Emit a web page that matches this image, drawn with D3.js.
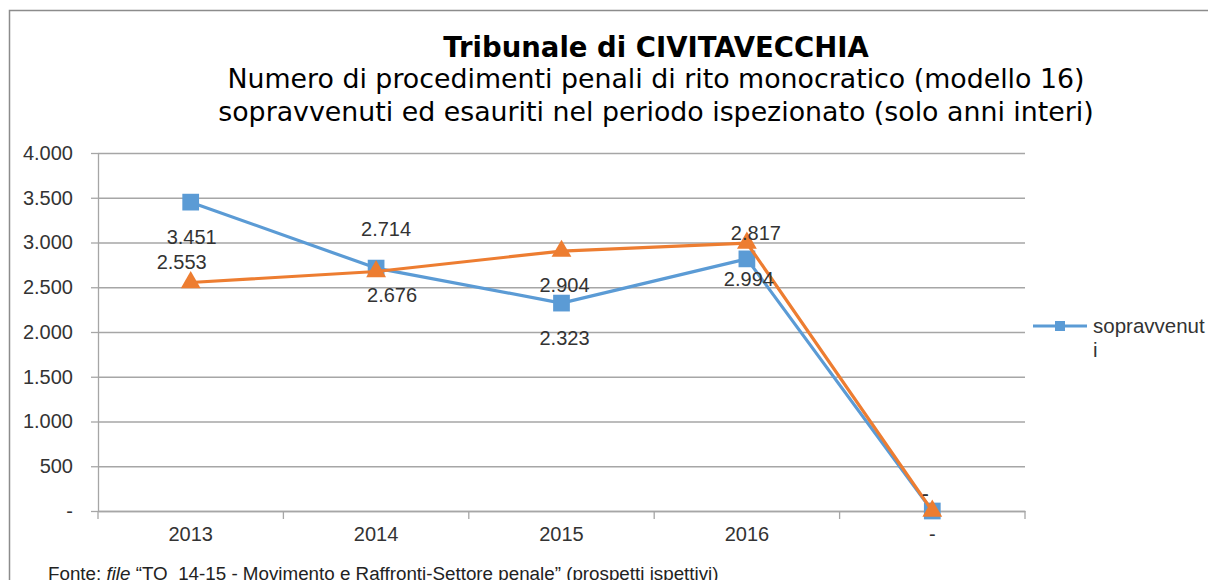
<!DOCTYPE html>
<html>
<head>
<meta charset="utf-8">
<script src="https://cdn.jsdelivr.net/npm/d3@7"></script>
<style>
    body { margin: 0; background: #fff; }
    svg { display: block; }
    .axis text { font-family: "Liberation Sans", Arial, sans-serif; font-size: 20px; fill: #333; }
    .title { font-family: "DejaVu Sans", Verdana, sans-serif; fill: #000; }
</style>
</head>
<body>
<div id="chart"></div>
<script>

// data
const categories = ["2013", "2014", "2015", "2016", "-"];
const seriesNames = ["sopravvenuti", "esauriti"];
const sopravvenuti = [3451, 2714, 2323, 2817, 0];
const esauriti = [2553, 2676, 2904, 2994, 0];
const yTicks = [0, 500, 1000, 1500, 2000, 2500, 3000, 3500, 4000];

const titleLines = [
    "Tribunale di CIVITAVECCHIA",
    "Numero di procedimenti penali di rito monocratico (modello 16)",
    "sopravvenuti ed esauriti nel periodo ispezionato (solo anni interi)"
];

// label offsets (layout only)
const labelOffsets = [
    [[1, 35], [10, -39], [3, 35], [9, -26], [-7, -17]],
    [[-9, -21], [16, 24], [3, 34], [2, 36], [-7, -17]]
];

let width = 1208, height = 580;
let plot = { left: 98, right: 1025, top: 153, bottom: 511 };

let svg = d3.select("#chart").append("svg")
    .attr("width", width)
    .attr("height", height);

// chart frame
svg.append("rect")
    .attr("x", 9.5).attr("y", 10.5)
    .attr("width", 1400).attr("height", 800)
    .attr("fill", "none")
    .attr("stroke", "#8c8c8c")
    .attr("stroke-width", 1.5);

// title
let title = svg.append("text")
    .attr("class", "title")
    .attr("text-anchor", "middle");
title.append("tspan")
    .attr("x", 656).attr("y", 57)
    .attr("font-size", 27.5).attr("font-weight", "bold")
    .text(titleLines[0]);
title.append("tspan")
    .attr("x", 656).attr("y", 88)
    .attr("font-size", 26.8)
    .text(titleLines[1]);
title.append("tspan")
    .attr("x", 656).attr("y", 121)
    .attr("font-size", 26.8)
    .text(titleLines[2]);

// scales
let x = d3.scaleBand()
    .domain(categories)
    .range([plot.left, plot.right])
    .padding(0);

let y = d3.scaleLinear()
    .domain([0, 4000])
    .range([plot.bottom, plot.top]);

const itLocale = d3.formatLocale({ decimal: ",", thousands: ".", grouping: [3], currency: ["€", ""] });
const fmtNum = itLocale.format(",.0f");
const fmt = v => v === 0 ? "-" : fmtNum(v);

// gridlines
svg.append("g")
    .attr("transform", "translate(" + plot.left + ",0)")
    .call(d3.axisLeft(y).tickValues(yTicks).tickSize(-(plot.right - plot.left)).tickFormat(""))
    .call(g => g.select(".domain").remove())
    .call(g => g.selectAll("line").attr("stroke", "#a6a6a6").attr("stroke-width", 1.3));

// y axis
svg.append("g")
    .attr("class", "axis y-axis")
    .attr("transform", "translate(" + plot.left + ",0)")
    .call(d3.axisLeft(y).tickValues(yTicks).tickSize(7).tickSizeOuter(0).tickPadding(18).tickFormat(fmt))
    .call(g => g.select(".domain").attr("stroke", "#a6a6a6").attr("stroke-width", 1.3))
    .call(g => g.selectAll(".tick line").attr("stroke", "#a6a6a6").attr("stroke-width", 1.3));

// x axis (labels)
svg.append("g")
    .attr("class", "axis x-axis")
    .attr("transform", "translate(0," + plot.bottom + ")")
    .call(d3.axisBottom(x).tickSize(0).tickPadding(16))
    .call(g => g.select(".domain").attr("stroke", "#a6a6a6").attr("stroke-width", 1.3));

// x axis boundary ticks
let bounds = categories.map(c => x(c)).concat([x.range()[1]]);
svg.append("g")
    .selectAll("line")
    .data(bounds)
    .join("line")
    .attr("x1", d => d).attr("x2", d => d)
    .attr("y1", plot.bottom).attr("y2", plot.bottom + 8)
    .attr("stroke", "#a6a6a6")
    .attr("stroke-width", 1.3);

// series
let cx = c => x(c) + x.bandwidth() / 2;
let series = [
    { name: seriesNames[0], values: sopravvenuti, color: "#5b9bd5", symbol: d3.symbolSquare, size: 280 },
    { name: seriesNames[1], values: esauriti, color: "#ed7d31", symbol: d3.symbolTriangle, size: 170 }
];

let line = d3.line()
    .x(d => cx(d.cat))
    .y(d => y(d.val));

series.forEach(function (s, si) {
    let pts = categories.map((c, i) => ({ cat: c, val: s.values[i], i: i }));

    svg.append("path")
        .datum(pts)
        .attr("fill", "none")
        .attr("stroke", s.color)
        .attr("stroke-width", 3.2)
        .attr("stroke-linejoin", "round")
        .attr("d", line);

    svg.append("g")
        .selectAll("path")
        .data(pts)
        .join("path")
        .attr("transform", d => "translate(" + cx(d.cat) + "," + y(d.val) + ")")
        .attr("d", d3.symbol().type(s.symbol).size(s.size))
        .attr("fill", s.color);
});

// data labels
series.forEach(function (s, si) {
    svg.append("g")
        .selectAll("text")
        .data(categories.map((c, i) => ({ cat: c, val: s.values[i], i: i })))
        .join("text")
        .attr("x", d => cx(d.cat) + labelOffsets[si][d.i][0])
        .attr("y", d => y(d.val) + labelOffsets[si][d.i][1])
        .attr("dy", "0.35em")
        .attr("text-anchor", "middle")
        .attr("font-family", "Liberation Sans, Arial, sans-serif")
        .attr("font-size", 20)
        .attr("fill", "#333")
        .text(d => fmt(d.val));
});

// legend (second entry falls outside the frame)
let legend = svg.append("g").attr("transform", "translate(1033,326)");
legend.append("line")
    .attr("x1", 0).attr("x2", 54)
    .attr("stroke", series[0].color)
    .attr("stroke-width", 3.2);
legend.append("path")
    .attr("transform", "translate(27,0)")
    .attr("d", d3.symbol().type(d3.symbolSquare).size(100))
    .attr("fill", series[0].color);
let legText = legend.append("text")
    .attr("font-family", "Liberation Sans, Arial, sans-serif")
    .attr("font-size", 20.5)
    .attr("fill", "#333");
legText.append("tspan").attr("x", 60).attr("y", 7).text(seriesNames[0].slice(0, -1));
legText.append("tspan").attr("x", 60).attr("y", 31).text(seriesNames[0].slice(-1));

// source note
let note = svg.append("text")
    .attr("x", 48).attr("y", 580)
    .attr("font-family", "'Liberation Sans', sans-serif")
    .attr("font-size", 18.8)
    .attr("fill", "#222");
note.append("tspan").text("Fonte: ");
note.append("tspan").attr("font-style", "italic").text("file");
note.append("tspan").text(" “TO_14-15 - Movimento e Raffronti-Settore penale” (prospetti ispettivi)");

</script>
</body>
</html>
